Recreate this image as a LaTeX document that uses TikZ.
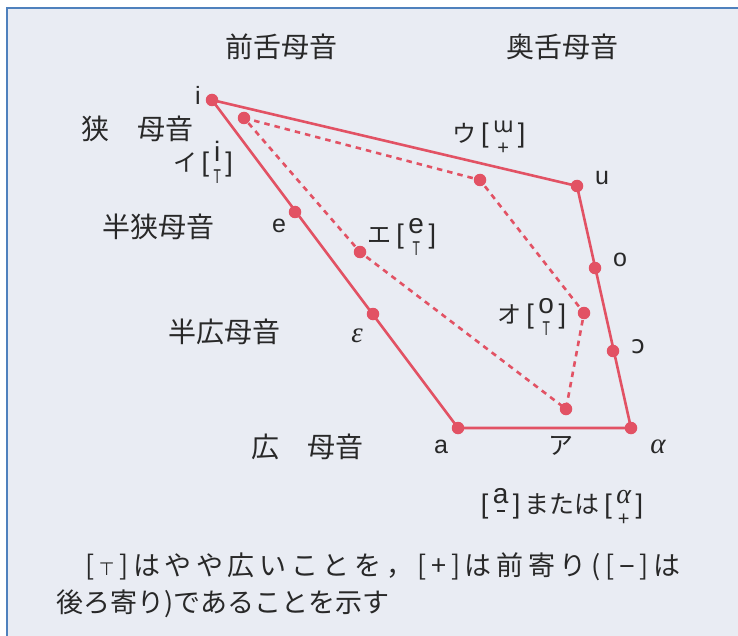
\documentclass[tikz,border=0pt]{standalone}
\usepackage{fontspec}
\setmainfont{Liberation Sans}
\newfontfamily\jpf{Noto Sans CJK JP}
\newfontfamily\ipaf{DejaVu Sans}
\newfontfamily\grf{Liberation Serif}
\definecolor{vred}{RGB}{226,82,100}
\definecolor{bgc}{RGB}{233,236,243}
\definecolor{framec}{RGB}{79,129,189}
\definecolor{txt}{RGB}{40,40,40}
\newcommand\stk[2]{\raisebox{-12pt}{\vbox{\baselineskip=22pt\lineskiplimit=-100pt\lineskip=0pt\halign{\hfil##\hfil\cr\fontsize{28}{28}\selectfont #1\cr\fontsize{20}{20}\selectfont #2\cr}}}}
\newcommand\tk{\scalebox{0.6}[1]{T}}
\newcommand\mn{\rule[14pt]{8pt}{1.6pt}}
\tikzset{
  vdot/.style={circle, fill=vred, draw=none, minimum size=12.5pt, inner sep=0pt},
  solidl/.style={draw=vred, line width=2.6pt, line join=round},
  dashl/.style={draw=vred, line width=2.6pt, dash pattern=on 5.5pt off 5pt},
  jp/.style={inner sep=0pt, text=txt, font=\jpf\fontsize{28}{30}\selectfont},
  lat/.style={inner sep=0pt, text=txt, font=\fontsize{25}{27}\selectfont},
  grk/.style={inner sep=0pt, text=txt, font=\grf\itshape\fontsize{29}{31}\selectfont},
  grp/.style={inner sep=0pt, text=txt, font=\fontsize{27}{27}\selectfont},
  note/.style={inner sep=0pt, text=txt, anchor=west, font=\jpf\fontsize{27}{30}\selectfont},
}
\begin{document}
\begin{tikzpicture}[x=1pt, y=-1pt]
\useasboundingbox (0,0) rectangle (738,636);
\fill[white] (0,0) rectangle (738,636);
\fill[bgc] (7,8) rectangle (738,636);
\draw[framec, line width=1.6pt] (7,636) -- (7,8) -- (738,8);

% headings
\node[jp] (hf) at (281,47) {前舌母音};
\node[jp] (hb) at (562,47) {奥舌母音};
\node[jp] (r1) at (137,129) {狭　母音};
\node[jp] (r2) at (158,227) {半狭母音};
\node[jp] (r3) at (224,332) {半広母音};
\node[jp] (r4) at (307,447) {広　母音};

% dots: cardinal (solid)
\node[vdot] (i) at (212,100) {};
\node[vdot] (u) at (577,186) {};
\node[vdot] (al) at (631,428) {};
\node[vdot] (a) at (458,428) {};
\node[vdot] (e) at (295,212) {};
\node[vdot] (eps) at (373,314) {};
\node[vdot] (o) at (595,268) {};
\node[vdot] (op) at (613,351) {};
% dots: Japanese (dashed)
\node[vdot] (I) at (244,118) {};
\node[vdot] (U) at (480,180) {};
\node[vdot] (O) at (584,313) {};
\node[vdot] (A) at (566,409) {};
\node[vdot] (E) at (360,252) {};

\path[solidl] (i.center) -- (u.center) -- (al.center) -- (a.center) -- cycle;
\path[dashl] (I.center) -- (U.center) -- (O.center) -- (A.center) -- (E.center) -- cycle;

% letters
\node[lat] (li) at (198,95) {i};
\node[lat] (le) at (279,226) {e};
\node[grk] (leps) at (357,336) {ε};
\node[lat] (la) at (441,447) {a};
\node[lat] (lu) at (602,178) {u};
\node[lat] (lo) at (620,260) {o};
\node[lat] (lop) at (638,347) {\ipaf ɔ};
\node[grk] (lal) at (658,447) {α};
\node[jp, font=\jpf\fontsize{25}{26}\selectfont] (lA) at (561,446) {ア};

% Japanese vowel labels
\node[grp] (gI) at (203,162) {{\jpf\fontsize{24}{26}\selectfont イ}\,[\,\stk{i}{\tk}\,]};
\node[grp] (gE) at (402,237) {{\jpf\fontsize{24}{26}\selectfont エ}\,[\,\stk{e}{\tk}\,]};
\node[grp] (gU) at (489,138) {{\jpf\fontsize{24}{26}\selectfont ウ}\,[\,\stk{\ipaf\fontsize{21}{21}\selectfont ɯ}{+}\,]};
\node[grp] (gO) at (532,317) {{\jpf\fontsize{24}{26}\selectfont オ}\,[\,\stk{o}{\tk}\,]};
\node[grp] (gA) at (562,507) {[\,\stk{a}{\mn}\,]\,{\jpf\fontsize{25}{26}\selectfont または}\,[\,\stk{\grf\itshape α}{+}\,]};

% note
\node[note] (n1) at (85,567) {\hbox to 595pt{[\hfill{\ipaf\fontsize{18}{18}\selectfont ⊤}\hfill]\hfill は\hfill や\hfill や\hfill 広\hfill い\hfill こ\hfill と\hfill を\hfill ，\hfill [\hfill +\hfill ]\hfill は\hfill 前\hfill 寄\hfill り\hfill (\hfill [\hfill {\rmfamily −}\hfill ]\hfill は}};
\node[note] (n2) at (56,604) {後ろ寄り)であることを示す};
\end{tikzpicture}
\end{document}
